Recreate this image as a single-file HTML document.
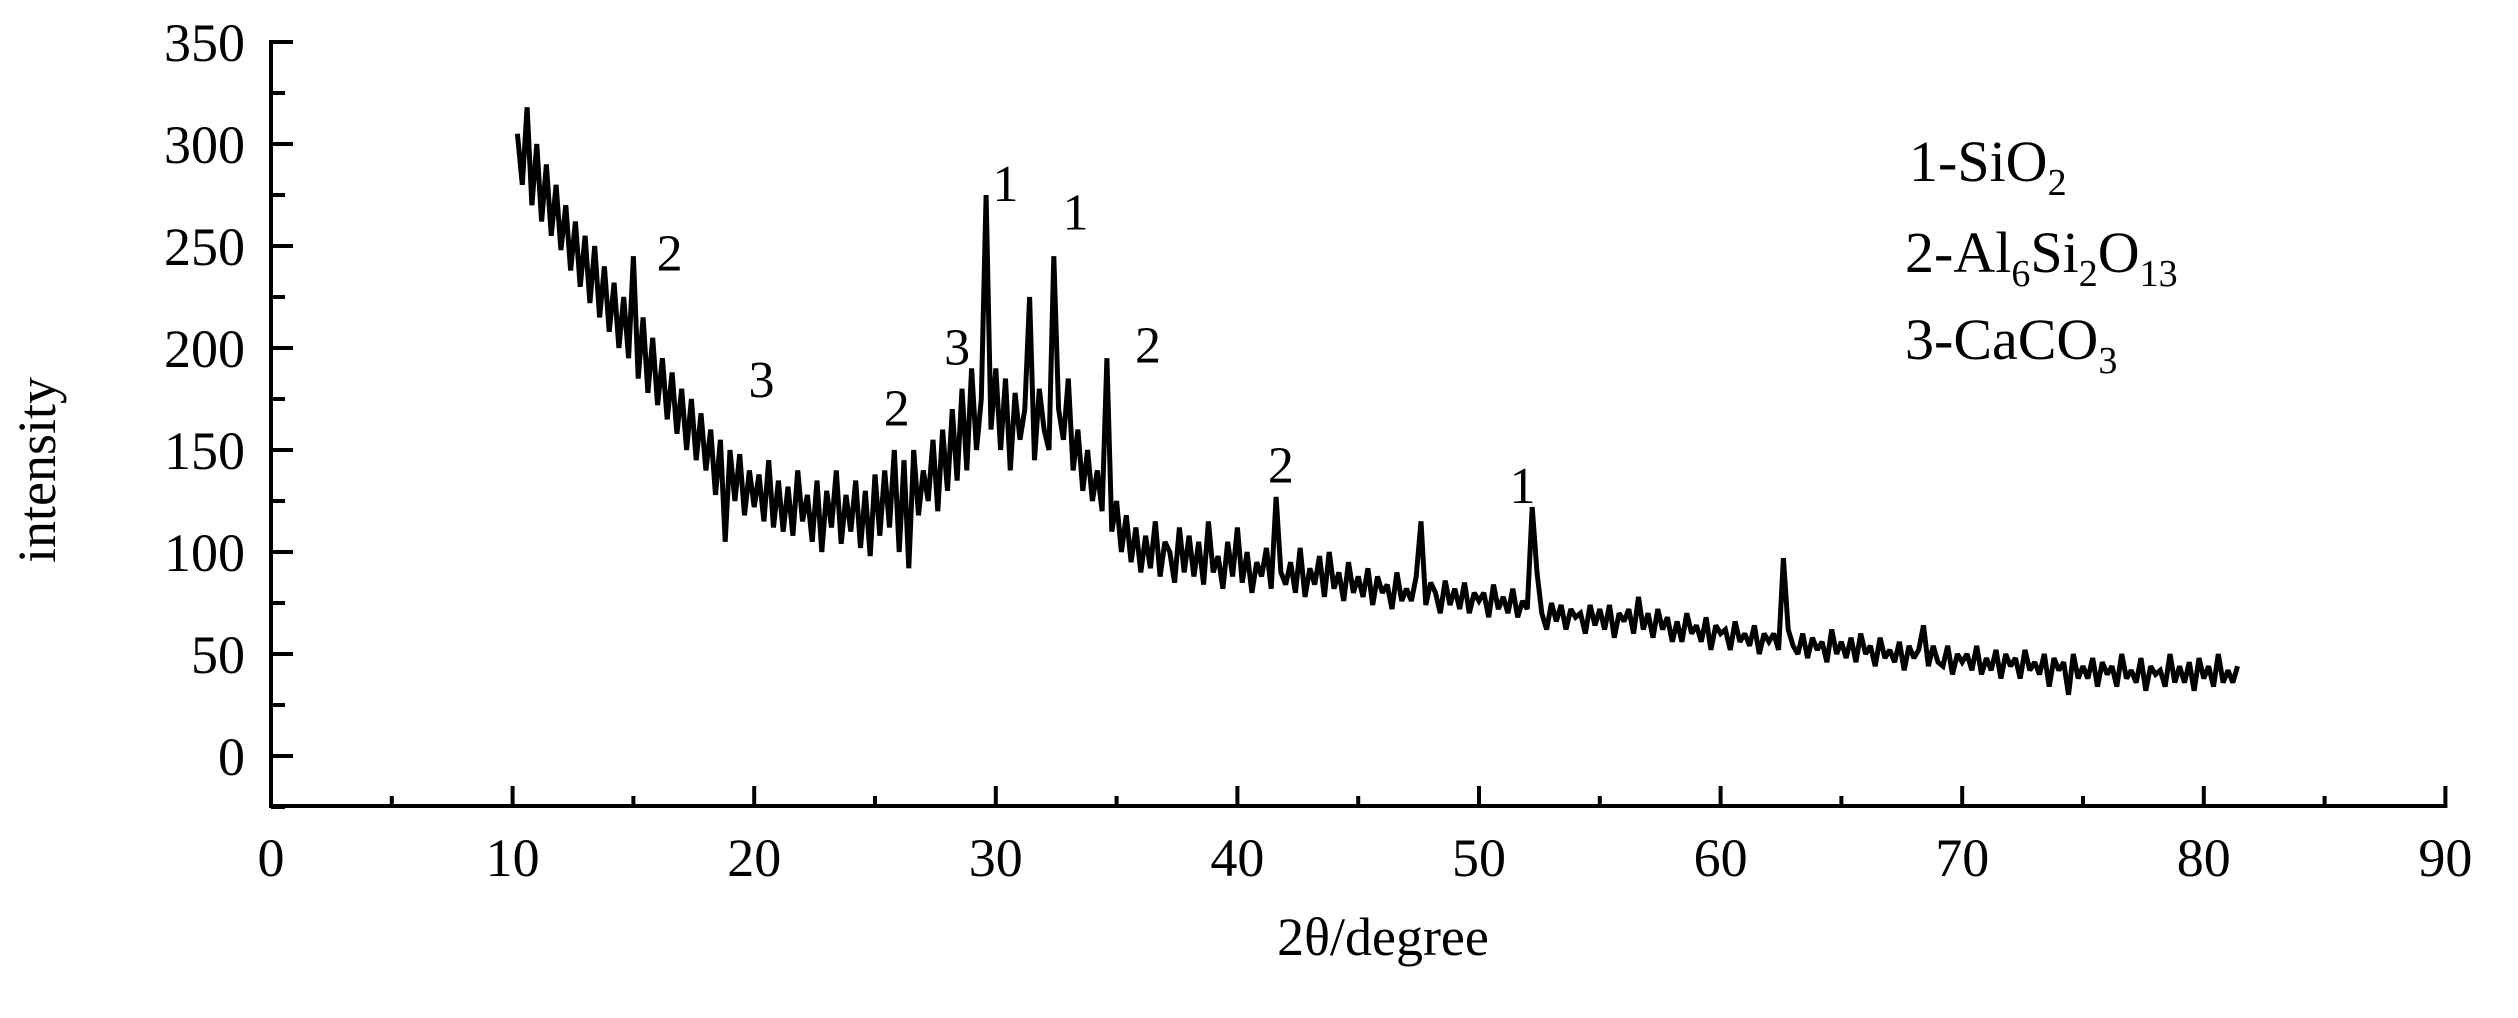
<!DOCTYPE html>
<html><head><meta charset="utf-8">
<style>
html,body{margin:0;padding:0;background:#fff;}
svg{display:block;}
text{font-family:"Liberation Serif",serif;fill:#000;}
</style></head>
<body>
<svg id="chart" width="2518" height="1018" viewBox="0 0 2518 1018" xmlns="http://www.w3.org/2000/svg">
<g id="axes"></g>
<g id="series"></g>
<g id="peaks"></g>
<text x="0" y="0" font-size="54" text-anchor="middle" transform="translate(55,470) rotate(-90)">intensity</text>
<text x="1383" y="955" font-size="54" text-anchor="middle">2θ/degree</text>
<g font-size="58">
<text x="1909" y="181">1-SiO<tspan font-size="38" dy="14">2</tspan></text>
<text x="1905" y="272">2-Al<tspan font-size="38" dy="14">6</tspan><tspan dy="-14">Si</tspan><tspan font-size="38" dy="14">2</tspan><tspan dy="-14">O</tspan><tspan font-size="38" dy="14">13</tspan></text>
<text x="1905" y="359">3-CaCO<tspan font-size="38" dy="14">3</tspan></text>
</g>
</svg>
<script>
const xStart = 10.2;
const xStep = 0.2;
const intensity = [
305,280,318,270,300, 262,290,255,280,248, 270,238,262,230,255, 222,250,215,240,208,
232,200,225,195,245, 185,215,178,205,172, 195,165,188,158,180, 150,175,145,168,140,
160,128,155,105,150, 125,148,118,140,122, 138,115,145,112,135, 110,132,108,140,115,
128,105,135,100,130, 112,140,104,128,110, 135,102,130,98,138, 108,140,112,150,100,
145,92,150,118,140, 125,155,120,160,130, 170,135,180,140,190, 150,175,275,160,190,
150,185,140,178,155, 170,225,145,180,160, 150,245,170,155,185, 140,160,130,150,125,
140,120,195,110,125, 100,118,95,112,90, 108,92,115,88,105, 100,85,112,90,108,
88,105,84,115,90, 98,82,105,88,112, 85,100,80,95,88, 102,82,127,90,84,
95,80,102,78,92, 84,98,78,100,82, 90,76,95,80,88, 78,92,74,88,80,
84,72,90,76,82, 76,88,115,74,85, 80,70,86,74,82, 72,85,70,80,76,
80,68,84,72,78, 70,82,68,76,72, 122,90,70,62,75, 66,74,62,72,68,
70,60,74,64,72, 62,74,58,70,66, 72,60,78,62,70, 58,72,62,68,56,
66,56,70,60,64, 56,68,52,64,60, 62,52,66,56,60, 54,64,50,60,56,
60,52,97,62,54, 50,60,48,58,52, 56,46,62,50,56, 48,58,46,60,50,
54,44,58,48,52, 46,56,42,54,48, 52,64,44,54,46, 44,54,40,50,46,
50,42,54,40,48, 42,52,38,50,44, 48,38,52,42,46, 40,50,34,48,42,
46,30,50,38,44, 38,48,34,46,40, 44,34,50,38,42, 36,48,32,44,40,
42,34,50,36,44, 36,46,32,48,38, 44,34,50,36,42, 36,44
];
const xTicks = [0,10,20,30,40,50,60,70,80,90];
const yTicks = [0,50,100,150,200,250,300,350];
const peakLabels = ["2","3","2","3","1","1","2","2","1"];
const peakX = [16.5,20.3,25.9,28.4,30.4,33.3,36.3,41.8,51.8];
const peakY = [238,176,162,192,272,258,193,134,124];

const NS = "http://www.w3.org/2000/svg";
const X0 = 271, XS = 24.16, Y0 = 756, YS = 2.04;
function sx(v){ return X0 + v*XS; }
function sy(v){ return Y0 - v*YS; }
const axisBottom = 806;
function mk(tag, attrs, parent){
  const e = document.createElementNS(NS, tag);
  for (const k in attrs) e.setAttribute(k, attrs[k]);
  parent.appendChild(e); return e;
}
const axes = document.getElementById('axes');
const yl = mk('line', {x1:X0, y1:sy(350)-2, x2:X0, y2:axisBottom+2, stroke:'#000','stroke-width':4}, axes);


const xl = mk('line', {x1:X0-2, y1:axisBottom, x2:sx(90)+2, y2:axisBottom, stroke:'#000','stroke-width':4}, axes);


yTicks.forEach(function(v){
  const t = mk('line', {x1:X0, y1:sy(v), x2:X0+22, y2:sy(v), stroke:'#000','stroke-width':4}, axes);
  
  
  if (v < 350) mk('line', {x1:X0, y1:sy(v+25), x2:X0+14, y2:sy(v+25), stroke:'#000','stroke-width':4}, axes);
  const l = mk('text', {x:245, y:sy(v)+19, 'font-size':54, 'text-anchor':'end'}, axes);
  l.textContent = v;
  
  
});
mk('line', {x1:X0, y1:sy(-25), x2:X0+14, y2:sy(-25), stroke:'#000','stroke-width':4}, axes);
xTicks.forEach(function(v){
  const t = mk('line', {x1:sx(v), y1:axisBottom, x2:sx(v), y2:axisBottom-20, stroke:'#000','stroke-width':4}, axes);
  
  
  if (v < 90) mk('line', {x1:sx(v+5), y1:axisBottom, x2:sx(v+5), y2:axisBottom-10, stroke:'#000','stroke-width':4}, axes);
  const l = mk('text', {x:sx(v), y:876, 'font-size':54, 'text-anchor':'middle'}, axes);
  l.textContent = v;
  
  
});
const series = document.getElementById('series');
let pts = [];
intensity.forEach(function(v,i){
  pts.push(sx(xStart + i*xStep).toFixed(1) + ',' + sy(v).toFixed(1));
});
const pl = mk('polyline', {points:pts.join(' '), fill:'none', stroke:'#000','stroke-width':5,'stroke-linejoin':'miter','stroke-miterlimit':2}, series);


const peaks = document.getElementById('peaks');
peakLabels.forEach(function(s,i){
  const t = mk('text', {x:sx(peakX[i]), y:sy(peakY[i]), 'font-size':52, 'text-anchor':'middle'}, peaks);
  t.textContent = s;
  
  
});
</script>
</body></html>
